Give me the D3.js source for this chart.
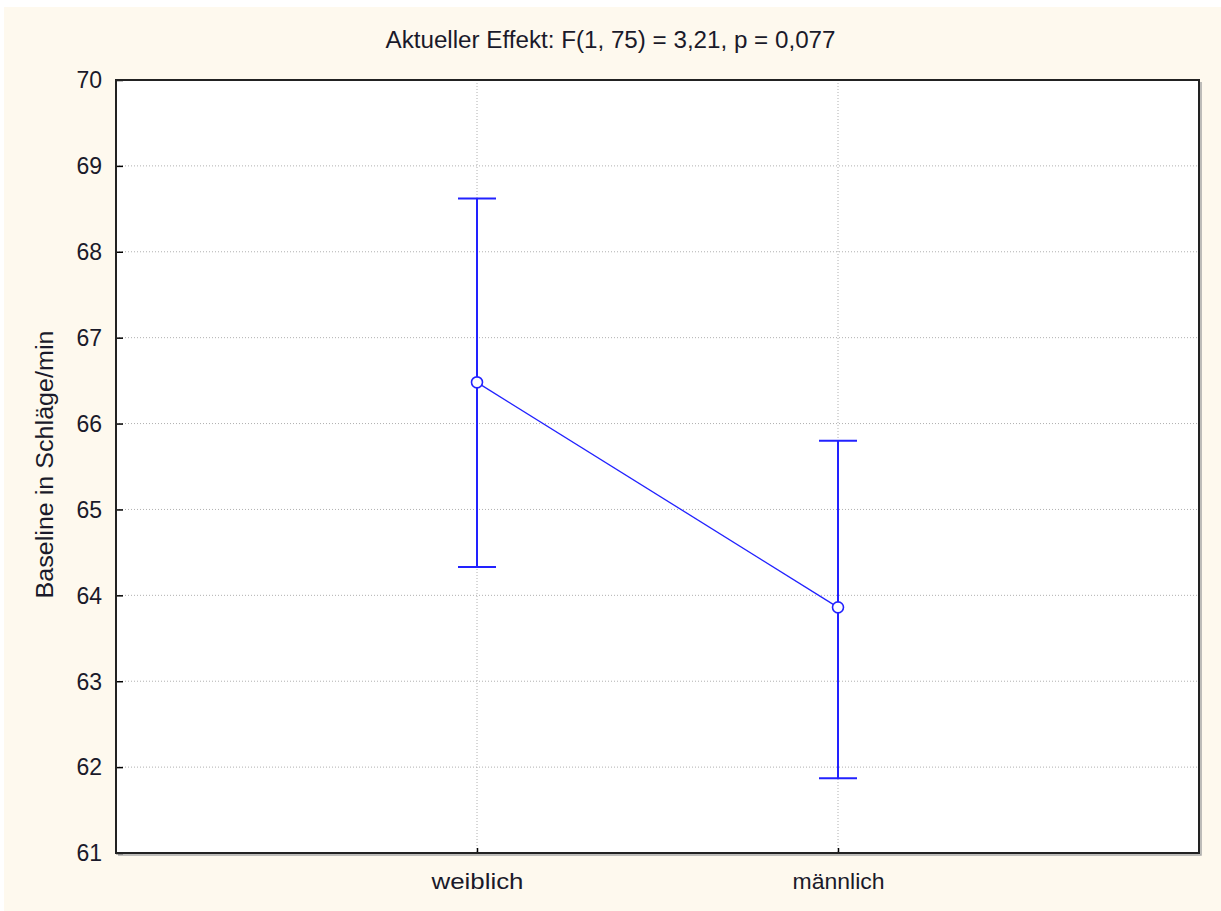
<!DOCTYPE html>
<html>
<head>
<meta charset="utf-8">
<script src="https://cdn.jsdelivr.net/npm/d3@7"></script>
<style>
  html, body { margin: 0; padding: 0; background: #ffffff; }
  svg { display: block; }
  .sans { font-family: "Liberation Sans", Arial, sans-serif; }
</style>
</head>
<body>
<svg id="chart" width="1221" height="911"></svg>
<script>
// Mean baseline heart rate by sex, with confidence interval bounds
const categories = ["weiblich", "männlich"];
const means = [66.48, 63.86];
const upper = [68.62, 65.80];
const lower = [64.33, 61.87];
const yTicks = [61, 62, 63, 64, 65, 66, 67, 68, 69, 70];
const titleText = "Aktueller Effekt: F(1, 75) = 3,21, p = 0,077";
const yLabel = "Baseline in Schläge/min";

const W = 1221, H = 911;
const margin = { left: 116, top: 80, right: 22, bottom: 58 };
const plotW = W - margin.left - margin.right;
const plotH = H - margin.top - margin.bottom;
const blue = "#2222ff";
const ink = "#1a1a2a";

const svg = d3.select("#chart");

// outer white rim and cream panel
svg.append("rect").attr("width", W).attr("height", H).attr("fill", "#ffffff");
svg.append("rect").attr("x", 4).attr("y", 7).attr("width", W - 4).attr("height", H - 7)
  .attr("fill", "#fef9ee");

const x = d3.scalePoint().domain(["", ...categories, " "]).range([0, plotW]);
const y = d3.scaleLinear().domain([61, 70]).range([plotH, 0]);

const g = svg.append("g").attr("transform", `translate(${margin.left},${margin.top})`);

// light shadow along right and bottom of the plot frame
g.append("path")
  .attr("d", `M${plotW + 2},2 V${plotH + 2} H2`)
  .attr("fill", "none").attr("stroke", "#a8a8a8").attr("stroke-width", 1.5);

g.append("rect").attr("width", plotW).attr("height", plotH).attr("fill", "#ffffff");

// horizontal dotted grid
g.append("g").selectAll("line").data(yTicks.filter(t => t > 61 && t < 70)).join("line")
  .attr("x1", 0).attr("x2", plotW)
  .attr("y1", d => y(d)).attr("y2", d => y(d))
  .attr("stroke", "#b0b0b0").attr("stroke-width", 1).attr("stroke-dasharray", "1,2");

// vertical dotted grid at categories
g.append("g").selectAll("line").data(categories).join("line")
  .attr("x1", d => x(d)).attr("x2", d => x(d))
  .attr("y1", 0).attr("y2", plotH)
  .attr("stroke", "#b0b0b0").attr("stroke-width", 1).attr("stroke-dasharray", "1,2");

// y axis with inward ticks
const yAxis = d3.axisLeft(y).tickValues(yTicks).tickSize(-7).tickPadding(14).tickFormat(d3.format("d"));
const ya = g.append("g").call(yAxis);
ya.select(".domain").remove();
ya.selectAll(".tick line").attr("stroke", "#000").attr("stroke-width", 1.5);
ya.selectAll(".tick text").attr("class", "sans").attr("font-size", 23).attr("fill", ink)
  .attr("dy", "0.34em");

// x axis with inward ticks
const xAxis = d3.axisBottom(x).tickValues(categories).tickSize(-5).tickPadding(20);
const xa = g.append("g").attr("transform", `translate(0,${plotH})`).call(xAxis);
xa.select(".domain").remove();
xa.selectAll(".tick line").attr("stroke", "#000").attr("stroke-width", 1.5);
xa.selectAll(".tick text").attr("class", "sans").attr("font-size", 22).attr("fill", ink)
  .attr("textLength", 92).attr("lengthAdjust", "spacingAndGlyphs");

// frame
g.append("rect").attr("width", plotW).attr("height", plotH)
  .attr("fill", "none").attr("stroke", "#222").attr("stroke-width", 2);

// error bars
const eb = g.append("g").selectAll("g").data(categories).join("g");
eb.append("line")
  .attr("x1", d => x(d)).attr("x2", d => x(d))
  .attr("y1", (d, i) => y(upper[i])).attr("y2", (d, i) => y(lower[i]))
  .attr("stroke", blue).attr("stroke-width", 2);
eb.append("line")
  .attr("x1", d => x(d) - 19).attr("x2", d => x(d) + 19)
  .attr("y1", (d, i) => y(upper[i])).attr("y2", (d, i) => y(upper[i]))
  .attr("stroke", blue).attr("stroke-width", 2);
eb.append("line")
  .attr("x1", d => x(d) - 19).attr("x2", d => x(d) + 19)
  .attr("y1", (d, i) => y(lower[i])).attr("y2", (d, i) => y(lower[i]))
  .attr("stroke", blue).attr("stroke-width", 2);

// connecting line of means
const line = d3.line().x(d => x(d.c)).y(d => y(d.v));
g.append("path").datum(categories.map((c, i) => ({ c, v: means[i] })))
  .attr("d", line).attr("fill", "none").attr("stroke", blue).attr("stroke-width", 1.3);

// mean markers
g.append("g").selectAll("circle").data(categories).join("circle")
  .attr("cx", d => x(d)).attr("cy", (d, i) => y(means[i])).attr("r", 5.5)
  .attr("fill", "#ffffff").attr("stroke", blue).attr("stroke-width", 1.6);

// title
svg.append("text").attr("class", "sans")
  .attr("x", W / 2).attr("y", 48)
  .attr("text-anchor", "middle").attr("font-size", 23).attr("fill", ink)
  .attr("textLength", 450).attr("lengthAdjust", "spacingAndGlyphs")
  .text(titleText);

// y axis label
svg.append("text").attr("class", "sans")
  .attr("transform", `translate(53,${margin.top + plotH / 2 - 2}) rotate(-90)`)
  .attr("text-anchor", "middle").attr("font-size", 23).attr("fill", ink)
  .attr("textLength", 268).attr("lengthAdjust", "spacingAndGlyphs")
  .text(yLabel);
</script>
</body>
</html>
